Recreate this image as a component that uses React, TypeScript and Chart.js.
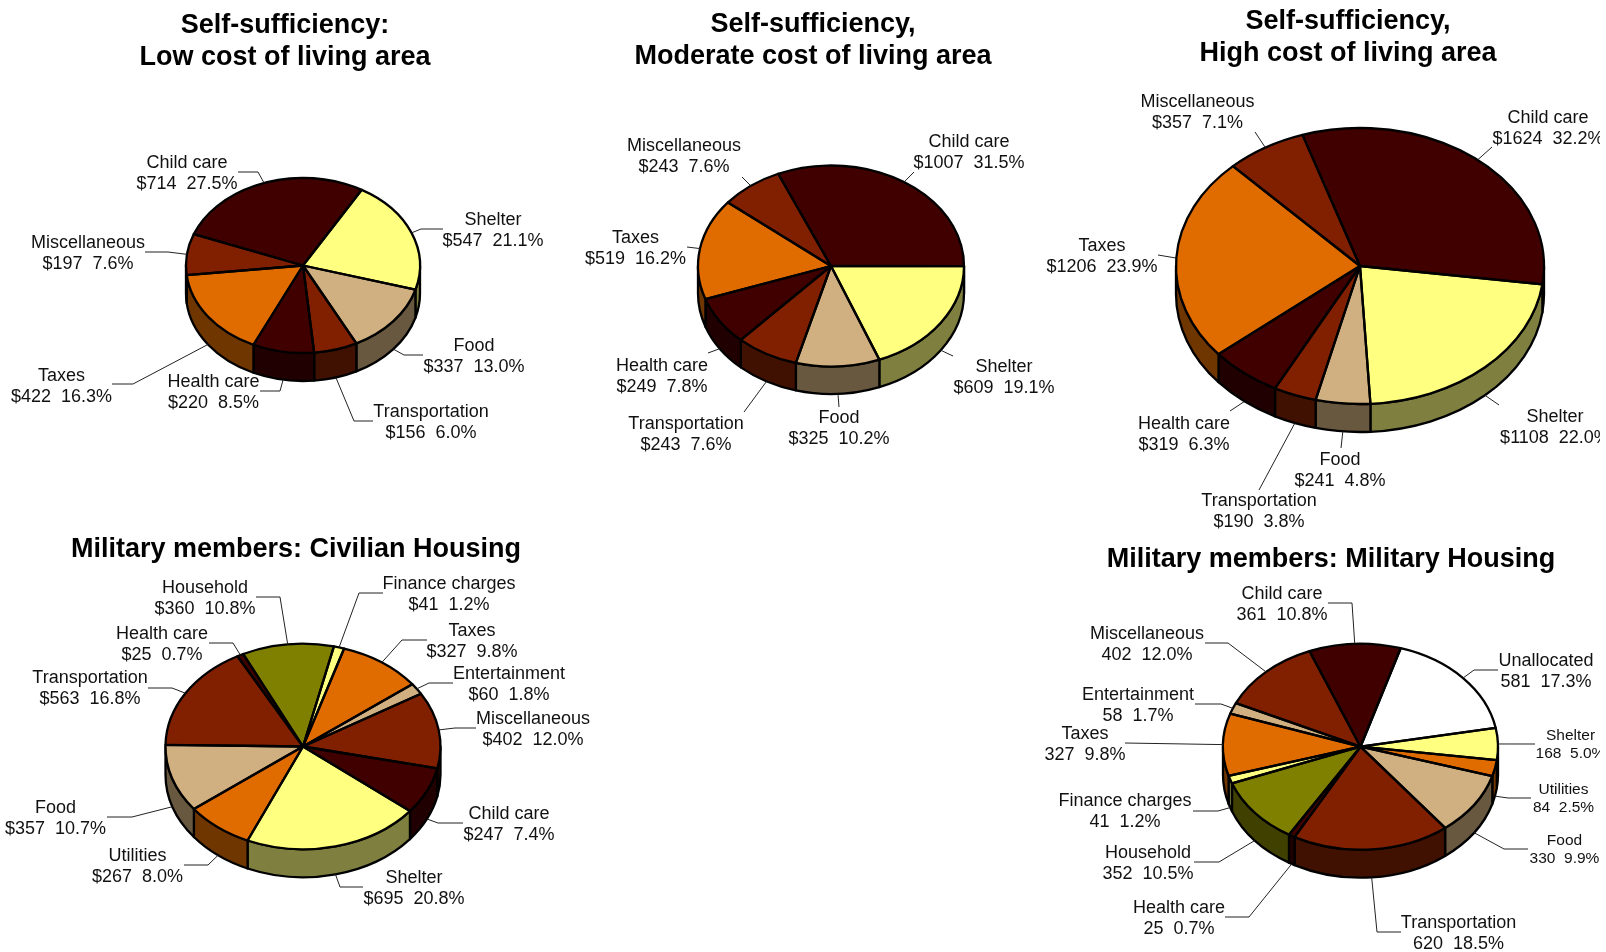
import React, { useEffect, useRef } from "react";
import { Chart, registerables } from "chart.js";

Chart.register(...registerables);

// ---------- data ----------
const lowLabels = ["Child care", "Shelter", "Food", "Transportation", "Health care", "Taxes", "Miscellaneous"];
const lowValues = [714, 547, 337, 156, 220, 422, 197];
const lowPercents = ["27.5%", "21.1%", "13.0%", "6.0%", "8.5%", "16.3%", "7.6%"];

const moderateLabels = ["Child care", "Shelter", "Food", "Transportation", "Health care", "Taxes", "Miscellaneous"];
const moderateValues = [1007, 609, 325, 243, 249, 519, 243];
const moderatePercents = ["31.5%", "19.1%", "10.2%", "7.6%", "7.8%", "16.2%", "7.6%"];

const highLabels = ["Child care", "Shelter", "Food", "Transportation", "Health care", "Taxes", "Miscellaneous"];
const highValues = [1624, 1108, 241, 190, 319, 1206, 357];
const highPercents = ["32.2%", "22.0%", "4.8%", "3.8%", "6.3%", "23.9%", "7.1%"];

const civilianLabels = ["Finance charges", "Taxes", "Entertainment", "Miscellaneous", "Child care", "Shelter", "Utilities", "Food", "Transportation", "Health care", "Household"];
const civilianValues = [41, 327, 60, 402, 247, 695, 267, 357, 563, 25, 360];
const civilianPercents = ["1.2%", "9.8%", "1.8%", "12.0%", "7.4%", "20.8%", "8.0%", "10.7%", "16.8%", "0.7%", "10.8%"];

const militaryLabels = ["Unallocated", "Shelter", "Utilities", "Food", "Transportation", "Health care", "Household", "Finance charges", "Taxes", "Entertainment", "Miscellaneous", "Child care"];
const militaryValues = [581, 168, 84, 330, 620, 25, 352, 41, 327, 58, 402, 361];
const militaryPercents = ["17.3%", "5.0%", "2.5%", "9.9%", "18.5%", "0.7%", "10.5%", "1.2%", "9.8%", "1.7%", "12.0%", "10.8%"];

// ---------- styles and layout ----------
const CATEGORY_COLORS: Record<string, string> = {
  "Child care": "#400000",
  Shelter: "#FFFF80",
  Food: "#D0B080",
  Transportation: "#802000",
  "Health care": "#400000",
  Taxes: "#E06C00",
  Miscellaneous: "#802000",
  Utilities: "#E06C00",
  Household: "#808000",
  "Finance charges": "#FFFF80",
  Entertainment: "#D0B080",
  Unallocated: "#FFFFFF",
};

const WIDTH = 1600;
const HEIGHT = 952;
const FONT = '"Liberation Sans", Arial, sans-serif';
const LABEL_SHIFT_Y = 1;

type Slot = { x: number; y: number; pts: number[][]; size?: number };

const lowSlots: Slot[] = [
  { x: 187, y: 162, pts: [[258, 172], [238, 172]] },
  { x: 493, y: 219, pts: [[421, 229], [443, 229]] },
  { x: 474, y: 345, pts: [[404, 355], [423, 355]] },
  { x: 431, y: 411, pts: [[354, 421], [373, 421]] },
  { x: 213.5, y: 381, pts: [[280, 391], [260, 391]] },
  { x: 61.5, y: 375, pts: [[133, 384], [112, 384]] },
  { x: 88, y: 242, pts: [[168, 252], [145, 252]] },
];
const moderateSlots: Slot[] = [
  { x: 969, y: 141, pts: [[914, 172]] },
  { x: 1004, y: 366, pts: [[953, 356]] },
  { x: 839, y: 417, pts: [[839, 407]] },
  { x: 686, y: 423, pts: [[744, 412]] },
  { x: 662, y: 365, pts: [[708, 353]] },
  { x: 635.5, y: 237, pts: [[687, 247]] },
  { x: 684, y: 145, pts: [[742, 177]] },
];
const highSlots: Slot[] = [
  { x: 1548, y: 117, pts: [[1492, 147]] },
  { x: 1555, y: 416, pts: [[1499, 405]] },
  { x: 1340, y: 459, pts: [[1341, 448]] },
  { x: 1259, y: 500, pts: [[1259, 490]] },
  { x: 1184, y: 423, pts: [[1230, 411]] },
  { x: 1102, y: 245, pts: [[1158, 255]] },
  { x: 1197.5, y: 101, pts: [[1255, 132]] },
];
const civilianSlots: Slot[] = [
  { x: 449, y: 583, pts: [[359, 593], [383, 593]] },
  { x: 472, y: 630, pts: [[402, 640], [427, 640]] },
  { x: 509, y: 673, pts: [[429, 683], [453, 683]] },
  { x: 533, y: 718, pts: [[455, 728], [476, 728]] },
  { x: 509, y: 813, pts: [[438, 823], [463, 823]] },
  { x: 414, y: 877, pts: [[340, 887], [363, 887]] },
  { x: 137.5, y: 855, pts: [[208, 865], [184, 865]] },
  { x: 55.5, y: 807, pts: [[132, 817], [107, 817]] },
  { x: 90, y: 677, pts: [[172, 688], [148, 688]] },
  { x: 162, y: 633, pts: [[233, 643], [209, 643]] },
  { x: 205, y: 587, pts: [[280, 597], [256, 597]] },
];
const militarySlots: Slot[] = [
  { x: 1546, y: 660, pts: [[1474, 670], [1498, 670]] },
  { x: 1570.5, y: 735, pts: [[1535, 744]], size: 15.5 },
  { x: 1563.5, y: 789, pts: [[1508, 798], [1531, 798]], size: 15.5 },
  { x: 1564.5, y: 840, pts: [[1504, 849], [1528, 849]], size: 15.5 },
  { x: 1458.5, y: 922, pts: [[1377, 932], [1401, 932]] },
  { x: 1179, y: 907, pts: [[1249, 917], [1225, 917]] },
  { x: 1148, y: 852, pts: [[1219, 862], [1194, 862]] },
  { x: 1125, y: 800, pts: [[1218, 811], [1193, 811]] },
  { x: 1085, y: 733, pts: [[1125, 743]] },
  { x: 1138, y: 694, pts: [[1221, 704], [1195, 704]] },
  { x: 1147, y: 633, pts: [[1228, 643], [1205, 643]] },
  { x: 1282, y: 593, pts: [[1352, 603], [1328, 603]] },
];

type PieSpec = {
  labels: string[];
  values: number[];
  percents: string[];
  prefix: string;
  slots: Slot[];
  title: string[];
  titleX: number;
  titleY: number;
  cx: number;
  cy: number;
  rx: number;
  ry: number;
  depth: number;
  rotation: number;
};

const PIES: PieSpec[] = [
  { labels: lowLabels, values: lowValues, percents: lowPercents, prefix: "$", slots: lowSlots,
    title: ["Self-sufficiency:", "Low cost of living area"], titleX: 285, titleY: 26,
    cx: 303, cy: 265.5, rx: 117, ry: 87.5, depth: 28, rotation: -69 },
  { labels: moderateLabels, values: moderateValues, percents: moderatePercents, prefix: "$", slots: moderateSlots,
    title: ["Self-sufficiency,", "Moderate cost of living area"], titleX: 813, titleY: 24.5,
    cx: 831, cy: 266, rx: 133, ry: 100.5, depth: 27.5, rotation: -23.4 },
  { labels: highLabels, values: highValues, percents: highPercents, prefix: "$", slots: highSlots,
    title: ["Self-sufficiency,", "High cost of living area"], titleX: 1348, titleY: 21.5,
    cx: 1360, cy: 266, rx: 184, ry: 138, depth: 28, rotation: -18.2 },
  { labels: civilianLabels, values: civilianValues, percents: civilianPercents, prefix: "$", slots: civilianSlots,
    title: ["Military members: Civilian Housing"], titleX: 296, titleY: 550,
    cx: 303, cy: 746.5, rx: 137.5, ry: 102.7, depth: 28, rotation: 13 },
  { labels: militaryLabels, values: militaryValues, percents: militaryPercents, prefix: "", slots: militarySlots,
    title: ["Military members: Military Housing"], titleX: 1331, titleY: 560,
    cx: 1360.5, cy: 746.7, rx: 137.5, ry: 103, depth: 28, rotation: 17 },
];

function halve(hex: string): string {
  const n = parseInt(hex.slice(1), 16);
  const r = (n >> 16) & 255, g = (n >> 8) & 255, b = n & 255;
  return `rgb(${r >> 1},${g >> 1},${b >> 1})`;
}

function makePlugin(spec: PieSpec) {
  const k = spec.ry / spec.rx;
  return {
    id: "pie3d",
    beforeDatasetsDraw(chart: any) {
      const ctx = chart.ctx;
      const arcs = chart.getDatasetMeta(0).data;
      ctx.save();
      ctx.lineJoin = "round";
      ctx.lineWidth = 2.3;
      ctx.strokeStyle = "#000";
      arcs.forEach((arc: any, i: number) => {
        const { x, y, outerRadius: r, startAngle: a0, endAngle: a1 } = arc;
        for (let n = -2; n <= 2; n++) {
          const lo = Math.max(a0, 2 * Math.PI * n);
          const hi = Math.min(a1, 2 * Math.PI * n + Math.PI);
          if (hi <= lo) continue;
          ctx.beginPath();
          ctx.ellipse(x, y + spec.depth, r, r * k, 0, lo, hi);
          ctx.ellipse(x, y, r, r * k, 0, hi, lo, true);
          ctx.closePath();
          ctx.fillStyle = halve(CATEGORY_COLORS[spec.labels[i]]);
          ctx.fill();
          ctx.stroke();
        }
      });
      ctx.restore();
      ctx.save();
      ctx.translate(spec.cx, spec.cy);
      ctx.scale(1, k);
      ctx.translate(-spec.cx, -spec.cy);
    },
    afterDatasetsDraw(chart: any) {
      const ctx = chart.ctx;
      ctx.restore();
      const arcs = chart.getDatasetMeta(0).data;
      ctx.save();
      ctx.lineJoin = "round";
      ctx.lineWidth = 2.3;
      ctx.strokeStyle = "#000";
      arcs.forEach((arc: any) => {
        const { x, y, outerRadius: r, startAngle: a0, endAngle: a1 } = arc;
        ctx.beginPath();
        ctx.moveTo(x, y);
        ctx.ellipse(x, y, r, r * k, 0, a0, a1);
        ctx.closePath();
        ctx.stroke();
      });

      // leader lines
      ctx.lineWidth = 1;
      ctx.strokeStyle = "#222";
      arcs.forEach((arc: any, i: number) => {
        const { x, y, outerRadius: r, startAngle: a0, endAngle: a1 } = arc;
        const mid = (a0 + a1) / 2;
        const s = Math.sin(mid);
        ctx.beginPath();
        ctx.moveTo(x + r * Math.cos(mid), y + r * k * s + (s > 0 ? spec.depth : 0));
        spec.slots[i].pts.forEach((p) => ctx.lineTo(p[0], p[1]));
        ctx.stroke();
      });

      // slice labels
      ctx.fillStyle = "#111";
      ctx.textAlign = "center";
      ctx.textBaseline = "middle";
      spec.slots.forEach((slot, i) => {
        const size = slot.size ?? 18;
        const y0 = slot.y + LABEL_SHIFT_Y;
        ctx.font = `${size}px ${FONT}`;
        ctx.fillText(spec.labels[i], slot.x, y0);
        ctx.fillText(`${spec.prefix}${spec.values[i]}  ${spec.percents[i]}`, slot.x, y0 + size * 1.165);
      });

      // title
      ctx.fillStyle = "#000";
      ctx.font = `bold 27px ${FONT}`;
      spec.title.forEach((line, i) => ctx.fillText(line, spec.titleX, spec.titleY + i * 31.7));
      ctx.restore();
    },
  };
}

export default function App() {
  const refs = useRef<(HTMLCanvasElement | null)[]>([]);
  useEffect(() => {
    const charts = PIES.map((spec, i) => {
      const canvas = refs.current[i]!;
      return new Chart(canvas, {
        type: "pie",
        data: {
          labels: spec.labels,
          datasets: [
            {
              data: spec.values,
              backgroundColor: spec.labels.map((l) => CATEGORY_COLORS[l]),
              borderWidth: 0,
              clip: false,
            } as any,
          ],
        },
        options: {
          responsive: false,
          animation: false,
          events: [],
          rotation: spec.rotation,
          layout: {
            padding: {
              left: spec.cx - spec.rx,
              right: WIDTH - spec.cx - spec.rx,
              top: spec.cy - spec.rx,
              bottom: HEIGHT - spec.cy - spec.rx,
            },
          },
          plugins: { legend: { display: false }, tooltip: { enabled: false }, title: { display: false } },
        },
        plugins: [makePlugin(spec)],
      } as any);
    });
    return () => charts.forEach((c) => c.destroy());
  }, []);
  return (
    <div style={{ position: "absolute", left: 0, top: 0, width: WIDTH, height: HEIGHT, overflow: "hidden", background: "#fff" }}>
      {PIES.map((_, i) => (
        <canvas
          key={i}
          ref={(el) => {
            refs.current[i] = el;
          }}
          width={WIDTH}
          height={HEIGHT}
          style={{ position: "absolute", left: 0, top: 0, display: "block" }}
        />
      ))}
    </div>
  );
}
